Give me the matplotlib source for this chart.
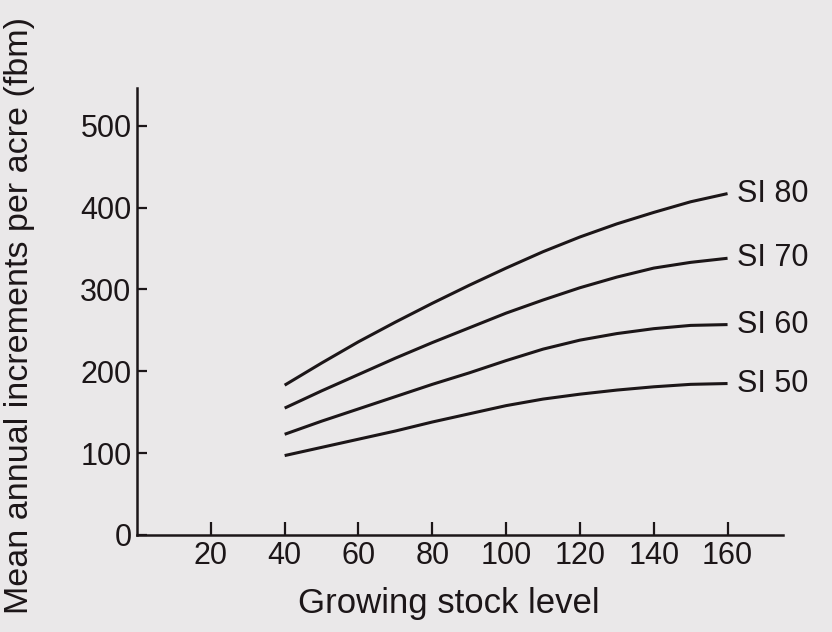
import matplotlib
matplotlib.use("Agg")
import matplotlib.pyplot as plt

# growing stock levels
stock = [40, 50, 60, 70, 80, 90, 100, 110, 120, 130, 140, 150, 160]

# mean annual increment (fbm per acre) for each site index
si80 = [183, 210, 236, 260, 283, 305, 326, 346, 364, 380, 394, 407, 417]
si70 = [155, 176, 196, 216, 235, 253, 271, 287, 302, 315, 326, 333, 338]
si60 = [123, 139, 154, 169, 184, 198, 213, 227, 238, 246, 252, 256, 257]
si50 = [97, 107, 117, 127, 138, 148, 158, 166, 172, 177, 181, 184, 185]

series_names = ["SI 80", "SI 70", "SI 60", "SI 50"]
x_ticks = [20, 40, 60, 80, 100, 120, 140, 160]
y_ticks = [0, 100, 200, 300, 400, 500]

bg = "#eae8e9"
ink = "#1c1618"

plt.rcParams["font.family"] = ["Liberation Sans", "DejaVu Sans"]

fig = plt.figure(figsize=(8.32, 6.32), dpi=100, facecolor=bg)
ax = fig.add_axes([0.1647, 0.1535, 0.7763, 0.7073])
ax.set_facecolor(bg)

for values, name in zip([si80, si70, si60, si50], series_names):
    ax.plot(stock, values, color=ink, linewidth=2.2, solid_capstyle="butt")
    ax.text(stock[-1] + 2.6, values[-1], name, va="center", ha="left",
            fontsize=22, color=ink)

ax.set_xlim(0, 175)
ax.set_ylim(0, 546)

ax.spines["top"].set_visible(False)
ax.spines["right"].set_visible(False)
for side in ["left", "bottom"]:
    ax.spines[side].set_color(ink)
    ax.spines[side].set_linewidth(1.8)

ax.set_xticks(x_ticks)
ax.set_yticks(y_ticks)
ax.tick_params(axis="x", direction="in", length=9.5, width=1.6, pad=4,
               labelsize=22, colors=ink)
ax.tick_params(axis="y", direction="in", length=7, width=1.6, pad=4,
               labelsize=22, colors=ink)

# axis titles placed by hand, as in the scanned figure
fig.text(0.540, 0.030, "Growing stock level", fontsize=25, color=ink,
         ha="center", va="baseline")
fig.text(0.034, 0.5, "Mean annual increments per acre (fbm)", fontsize=24.5,
         color=ink, rotation=90, rotation_mode="anchor",
         ha="center", va="baseline")

fig.savefig("out.png", dpi=100, facecolor=bg)
